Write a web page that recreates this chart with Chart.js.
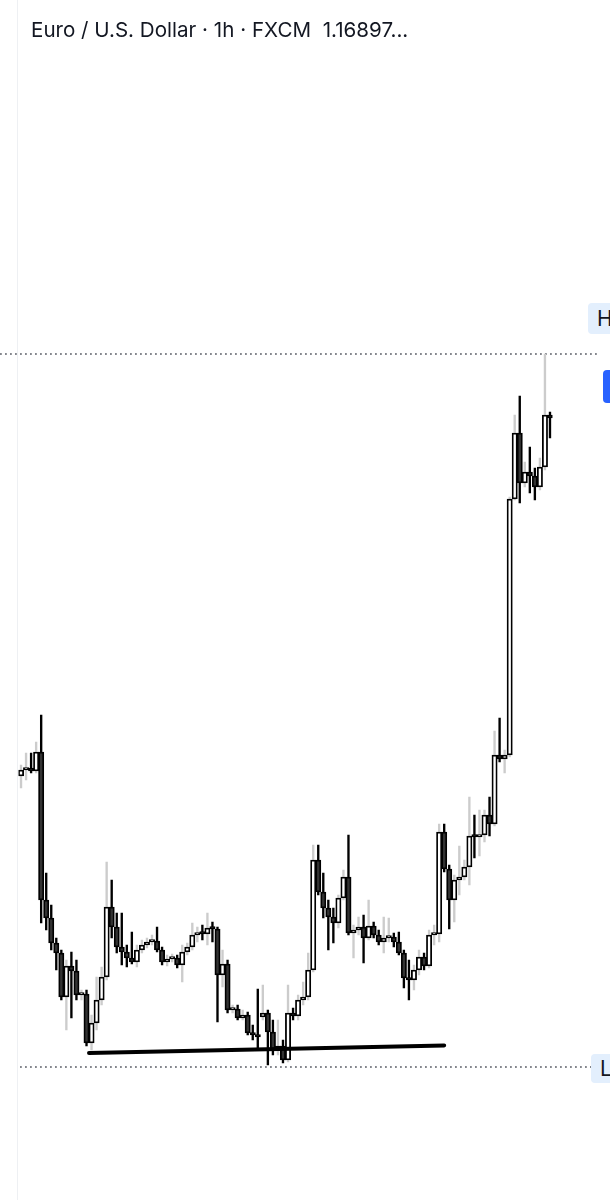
<!DOCTYPE html>
<html>
<head>
<meta charset="utf-8">
<script src="https://cdn.jsdelivr.net/npm/chart.js@4.4.1/dist/chart.umd.min.js"></script>
<style>
  html, body { margin: 0; padding: 0; background: #fff; }
  #wrap { position: relative; width: 610px; height: 1200px; overflow: hidden; }
  #title { position: absolute; left: 31px; top: 19px; font: 20.6px Inter, "Noto Sans", sans-serif; color: #131722; white-space: pre; line-height: 22px; }
  .tag { position: absolute; background: #e3effd; color: #131722; font: 21px Inter, sans-serif; border-radius: 4px 0 0 4px; padding-left: 9px; }
  #hTag { left: 588px; top: 303px; width: 30px; height: 31px; line-height: 31px; }
  #lTag { left: 591px; top: 1054px; width: 30px; height: 29px; line-height: 29px; }
  #blueTag { position: absolute; left: 603px; top: 370px; width: 20px; height: 33px; background: #2962ff; border-radius: 4px; }
</style>
</head>
<body>
<div id="wrap">
  <canvas id="myChart" width="610" height="1200"></canvas>
  <div id="title">Euro / U.S. Dollar · 1h · FXCM  1.16897...</div>
  <div class="tag" id="hTag">H</div>
  <div id="blueTag"></div>
  <div class="tag" id="lTag">L</div>
</div>
<script>
// hourly candles, EUR/USD
var openPrices = [
  1.14890, 1.14920, 1.14930, 1.14915, 1.15010, 1.14270, 1.14180, 1.14055, 1.14005, 1.13785,
  1.13940, 1.13915, 1.13795, 1.13800, 1.13555, 1.13655, 1.13770, 1.13885, 1.14235, 1.14135,
  1.14035, 1.14010, 1.13980, 1.13960, 1.14020, 1.14045, 1.14060, 1.14065, 1.14020, 1.13960,
  1.13975, 1.13980, 1.13945, 1.14010, 1.14035, 1.14095, 1.14105, 1.14100, 1.14130, 1.14125,
  1.13895, 1.13950, 1.13720, 1.13725, 1.13680, 1.13695, 1.13605, 1.13595, 1.13685, 1.13705,
  1.13610, 1.13520, 1.13540, 1.13470, 1.13705, 1.13690, 1.13770, 1.13785, 1.13920, 1.14470,
  1.14310, 1.14230, 1.14185, 1.14155, 1.14280, 1.14385, 1.14105, 1.14120, 1.14135, 1.14080,
  1.14140, 1.14095, 1.14060, 1.14080, 1.14085, 1.14060, 1.14005, 1.13880, 1.13870, 1.13920,
  1.13985, 1.13940, 1.14095, 1.14100, 1.14610, 1.14425, 1.14270, 1.14370, 1.14385, 1.14435,
  1.14590, 1.14585, 1.14595, 1.14695, 1.14650, 1.14995, 1.14975, 1.14995, 1.16275, 1.16605,
  1.16355, 1.16410, 1.16390, 1.16335, 1.16435, 1.16695
];
var highPrices = [
  1.14945, 1.15005, 1.15005, 1.15060, 1.15195, 1.14405, 1.14245, 1.14080, 1.14020, 1.13970,
  1.14010, 1.13970, 1.13820, 1.13820, 1.13695, 1.13885, 1.13935, 1.14460, 1.14370, 1.14205,
  1.14205, 1.14045, 1.14110, 1.14045, 1.14070, 1.14080, 1.14095, 1.14135, 1.14035, 1.13995,
  1.14000, 1.13995, 1.14045, 1.14055, 1.14155, 1.14135, 1.14145, 1.14205, 1.14160, 1.14135,
  1.14020, 1.13970, 1.13745, 1.13745, 1.13720, 1.13710, 1.13645, 1.13825, 1.13845, 1.13720,
  1.13670, 1.13670, 1.13570, 1.13845, 1.13730, 1.13795, 1.13860, 1.14005, 1.14545, 1.14545,
  1.14405, 1.14270, 1.14230, 1.14295, 1.14420, 1.14595, 1.14145, 1.14185, 1.14195, 1.14270,
  1.14160, 1.14120, 1.14185, 1.14180, 1.14105, 1.14110, 1.14020, 1.13970, 1.13945, 1.14020,
  1.14005, 1.14120, 1.14145, 1.14650, 1.14650, 1.14445, 1.14395, 1.14540, 1.14470, 1.14785,
  1.14695, 1.14720, 1.14720, 1.14785, 1.15115, 1.15180, 1.15020, 1.16285, 1.16695, 1.16790,
  1.16460, 1.16535, 1.16430, 1.16480, 1.17000, 1.16710
];
var lowPrices = [
  1.14830, 1.14870, 1.14905, 1.14905, 1.14155, 1.14120, 1.14020, 1.13920, 1.13770, 1.13620,
  1.13680, 1.13770, 1.13770, 1.13540, 1.13520, 1.13620, 1.13745, 1.13870, 1.14080, 1.14005,
  1.13945, 1.13935, 1.13950, 1.13935, 1.14005, 1.14030, 1.14045, 1.14010, 1.13945, 1.13940,
  1.13960, 1.13930, 1.13860, 1.13995, 1.14020, 1.14060, 1.14070, 1.14045, 1.14060, 1.13660,
  1.13835, 1.13705, 1.13705, 1.13670, 1.13670, 1.13595, 1.13570, 1.13520, 1.13670, 1.13445,
  1.13495, 1.13495, 1.13455, 1.13460, 1.13670, 1.13670, 1.13745, 1.13770, 1.13910, 1.14295,
  1.14180, 1.14020, 1.14055, 1.14130, 1.14270, 1.14095, 1.13980, 1.14095, 1.13955, 1.14070,
  1.14080, 1.14045, 1.14005, 1.14060, 1.14035, 1.13995, 1.13830, 1.13770, 1.13820, 1.13895,
  1.13920, 1.13930, 1.14045, 1.14060, 1.14410, 1.14125, 1.14160, 1.14295, 1.14370, 1.14345,
  1.14480, 1.14490, 1.14560, 1.14590, 1.14640, 1.14960, 1.14905, 1.14985, 1.16270, 1.16255,
  1.16335, 1.16305, 1.16270, 1.16320, 1.16420, 1.16580
];
var closePrices = [
  1.14920, 1.14930, 1.14915, 1.15010, 1.14270, 1.14180, 1.14055, 1.14005, 1.13785, 1.13940,
  1.13915, 1.13795, 1.13800, 1.13555, 1.13655, 1.13770, 1.13885, 1.14235, 1.14135, 1.14035,
  1.14010, 1.13980, 1.13960, 1.14020, 1.14045, 1.14060, 1.14065, 1.14020, 1.13960, 1.13975,
  1.13980, 1.13945, 1.14010, 1.14035, 1.14095, 1.14105, 1.14100, 1.14130, 1.14125, 1.13895,
  1.13950, 1.13720, 1.13725, 1.13680, 1.13695, 1.13605, 1.13595, 1.13585, 1.13705, 1.13610,
  1.13520, 1.13540, 1.13470, 1.13705, 1.13690, 1.13770, 1.13785, 1.13920, 1.14470, 1.14310,
  1.14230, 1.14185, 1.14155, 1.14280, 1.14385, 1.14105, 1.14120, 1.14135, 1.14080, 1.14140,
  1.14095, 1.14060, 1.14080, 1.14085, 1.14060, 1.14005, 1.13880, 1.13870, 1.13920, 1.13985,
  1.13940, 1.14095, 1.14100, 1.14610, 1.14425, 1.14270, 1.14370, 1.14385, 1.14435, 1.14590,
  1.14585, 1.14595, 1.14695, 1.14650, 1.14995, 1.14975, 1.14995, 1.16275, 1.16605, 1.16355,
  1.16410, 1.16390, 1.16335, 1.16435, 1.16695, 1.16680
];

// marked levels (dotted) and the drawn support line
var highLevel = 1.17000;
var lowLevel = 1.13435;
var trendIndex = [13.5, 84.0];
var trendPrice = [1.13505, 1.13543];

var label = openPrices.map(function (v, i) { return 'H' + i; });

var bodies = [], wicks = [], bodyColor = [], wickColor = [];
for (var i = 0; i < openPrices.length; i++) {
  bodies.push([openPrices[i], closePrices[i]]);
  wicks.push([lowPrices[i], highPrices[i]]);
  var up = closePrices[i] >= openPrices[i];
  bodyColor.push(up ? '#ffffff' : '#333333');
  wickColor.push(up ? '#cccccc' : '#000000');
}

const overlay = {
  id: 'overlay',
  beforeDatasetsDraw(chart) {
    const ctx = chart.ctx, y = chart.scales.y;
    ctx.save();
    // pane edge
    ctx.strokeStyle = '#eef0f3';
    ctx.lineWidth = 1;
    ctx.beginPath(); ctx.moveTo(17.5, 0); ctx.lineTo(17.5, 1200); ctx.stroke();
    // dotted high / low levels
    ctx.strokeStyle = '#84868d';
    ctx.lineWidth = 1.8;
    ctx.setLineDash([1.8, 3.2]);
    var yh = y.getPixelForValue(highLevel);
    ctx.beginPath(); ctx.moveTo(0, yh); ctx.lineTo(597, yh); ctx.stroke();
    var yl = y.getPixelForValue(lowLevel);
    ctx.beginPath(); ctx.moveTo(20, yl); ctx.lineTo(592, yl); ctx.stroke();
    ctx.restore();
  },
  afterDatasetsDraw(chart) {
    const ctx = chart.ctx, x = chart.scales.x, y = chart.scales.y;
    ctx.save();
    ctx.strokeStyle = '#000';
    ctx.lineWidth = 4;
    ctx.lineCap = 'round';
    ctx.beginPath();
    ctx.moveTo(x.getPixelForValue(trendIndex[0]), y.getPixelForValue(trendPrice[0]));
    ctx.lineTo(x.getPixelForValue(trendIndex[1]), y.getPixelForValue(trendPrice[1]));
    ctx.stroke();
    ctx.restore();
  }
};

const chartdata = {
  labels: label,
  datasets: [{
      label: 'body',
      data: bodies,
      backgroundColor: bodyColor,
      borderColor: '#000',
      borderWidth: 1.8,
      borderSkipped: false,
      barThickness: 5.3,
      minBarLength: 2.5,
      grouped: false,
      order: 0
    },
    {
      label: 'wick',
      data: wicks,
      backgroundColor: wickColor,
      borderWidth: 0,
      barThickness: 1.7,
      minBarLength: 1,
      grouped: false,
      order: 1
    }
  ]
};

const config = {
  type: 'bar',
  data: chartdata,
  options: {
    responsive: false,
    devicePixelRatio: 1,
    animation: false,
    layout: { padding: { left: 18.5, right: 57.5, top: 0, bottom: 0 } },
    plugins: { legend: { display: false }, tooltip: { enabled: false } },
    scales: {
      x: { type: 'category', display: false, offset: true },
      y: { display: false, min: 1.12770, max: 1.18770 }
    }
  },
  plugins: [overlay]
};

var myChart = new Chart(document.getElementById('myChart'), config);
</script>
</body>
</html>
